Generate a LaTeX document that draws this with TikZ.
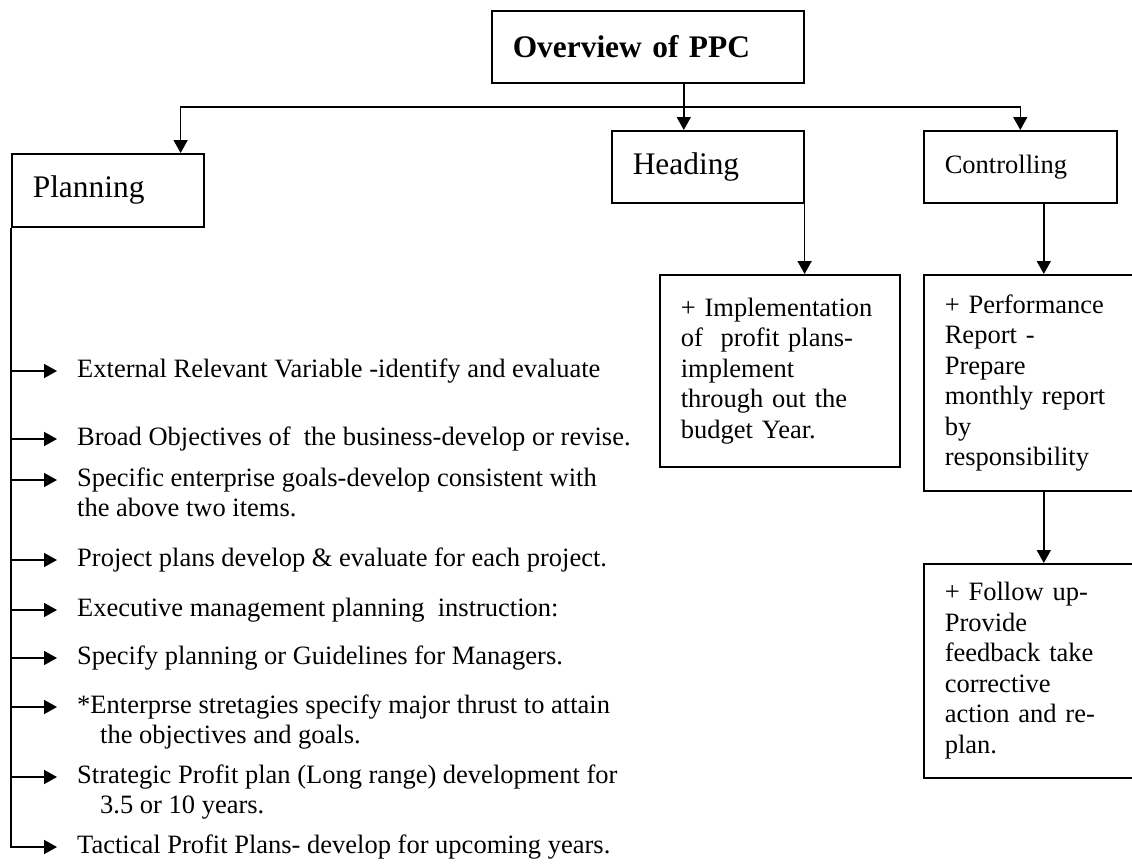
\documentclass[tikz,border=0pt]{standalone}
\usepackage{fontspec}
\setmainfont{Liberation Serif}
\usetikzlibrary{arrows.meta}
\usetikzlibrary{positioning}

\tikzset{
  box/.style={draw, line width=1.6pt, anchor=north west, align=left,
    inner xsep=21pt, inner ysep=0pt, font=\fontsize{26.5}{30.5}\selectfont},
  bigbox/.style={box, font=\fontsize{31.4}{36}\selectfont},
  item/.style={anchor=west, inner xsep=20pt, inner ysep=0pt,
    text height=18pt, text depth=6pt, font=\fontsize{26.5}{30.5}\selectfont},
  link/.style={line width=1.6pt, >={Triangle[length=13pt,width=14pt]}},
}

\begin{document}
\begin{tikzpicture}[x=1pt,y=-1pt]
\useasboundingbox (0,0) rectangle (1132,867);
\clip (0,0) rectangle (1132,867);

% top and second row
\node[bigbox, font=\bfseries\fontsize{31.4}{36}\selectfont, text width=270pt, minimum height=72pt] (ov) at (491,10) {Overview of PPC};
\node[bigbox, text width=150pt, minimum height=73pt] (pl) at (11,153) {Planning};
\node[bigbox, text width=150pt, minimum height=72pt] (hd) at (611,130) {Heading};
\node[box, text width=151pt, minimum height=72pt] (ct) at (923,130) {Controlling};

% third row
\node[box, text width=198pt, minimum height=192pt] (im) at (659,274) {+ Implementation\\of\ \ profit plans-\\implement\\through out the\\budget Year.};
\node[box, text width=198pt, minimum height=216pt] (pf) at (923,274) {+ Performance\\Report -\\Prepare\\monthly report\\by\\responsibility};
\node[box, text width=198pt, minimum height=214pt] (fu) at (923,563) {+ Follow up-\\Provide\\feedback take\\corrective\\action and re-\\plan.};

% planning list
\node[item] (i1) at (57,371) {External Relevant Variable -identify and evaluate};
\node[item] (i2) at (57,439) {Broad Objectives of\ \ the business-develop or revise.};
\node[item] (i3) at (57,480) {Specific enterprise goals-develop consistent with};
\node[item] (i3b) at (57,510) {the above two items.};
\node[item] (i4) at (57,560) {Project plans develop \& evaluate for each project.};
\node[item] (i5) at (57,610) {Executive management planning\ \ instruction:};
\node[item] (i6) at (57,658) {Specify planning or Guidelines for Managers.};
\node[item] (i7) at (57,707) {*Enterprse stretagies specify major thrust to attain};
\node[item] (i7b) at (80,737) {the objectives and goals.};
\node[item] (i8) at (57,777) {Strategic Profit plan (Long range) development for};
\node[item] (i8b) at (80,807) {3.5 or 10 years.};
\node[item] (i9) at (57,847) {Tactical Profit Plans- develop for upcoming years.};

% connectors
\coordinate (bus) at (600,107);
\draw[link,<->] ([xshift=-24pt]pl.north east) -- ([xshift=-24pt]pl.north east |- bus) -| (ct.north);
\draw[link,->] ([xshift=36pt]ov.south) -- ([xshift=36pt]ov.south |- hd.north);
\draw[link,->] (hd.south east) -- (hd.south east |- im.north);
\draw[link,->] (ct.south -| pf.north) -- (pf.north);
\draw[link,->] (pf.south) -- (fu.north);

\draw[link,->] (pl.south west |- i1.west) -- (i1.west);
\draw[link,->] (pl.south west |- i2.west) -- (i2.west);
\draw[link,->] (pl.south west |- i3.west) -- (i3.west);
\draw[link,->] (pl.south west |- i4.west) -- (i4.west);
\draw[link,->] (pl.south west |- i5.west) -- (i5.west);
\draw[link,->] (pl.south west |- i6.west) -- (i6.west);
\draw[link,->] (pl.south west |- i7.west) -- (i7.west);
\draw[link,->] (pl.south west |- i8.west) -- (i8.west);
\draw[link,->] (pl.south west) |- (i9.west);
\end{tikzpicture}
\end{document}
